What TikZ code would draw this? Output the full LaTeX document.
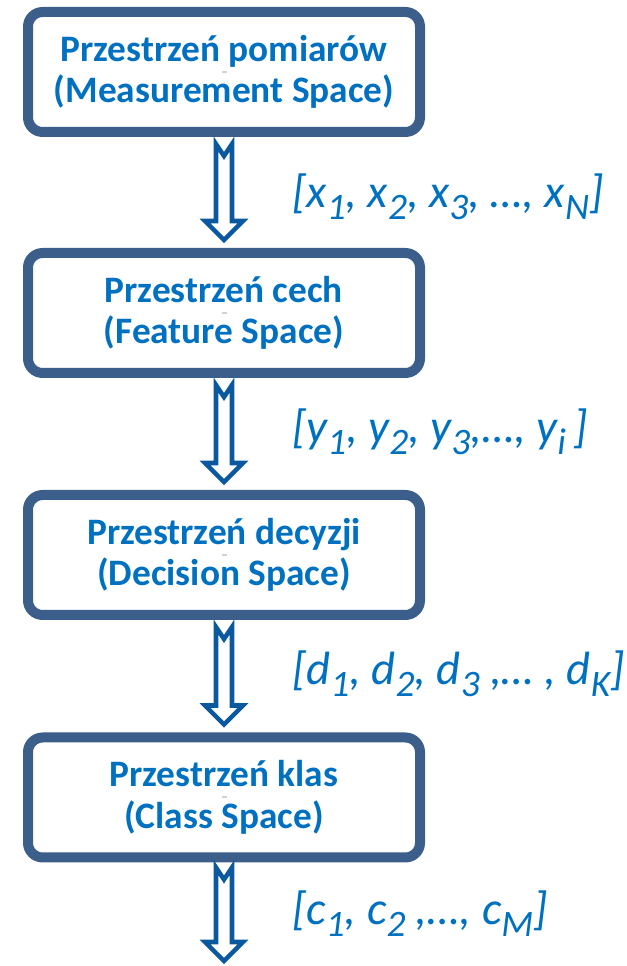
\documentclass[tikz,border=0pt]{standalone}
\usepackage{fontspec}
\setmainfont{Carlito}
\usetikzlibrary{calc}

\definecolor{boxblue}{RGB}{59,94,139}
\definecolor{arrowblue}{RGB}{10,88,158}
\definecolor{textblue}{RGB}{0,112,192}

% lowered, slightly smaller index
\newcommand{\idx}[1]{\raisebox{-0.24em}{\fontsize{28pt}{28pt}\selectfont #1}}
% hollow down arrow with notched tail, from coordinate #1 to tip #2
\newcommand{\spacearrow}[2]{%
  \draw[flowarrow] ($(#1)+(-8,0)$) -- ($(#1)+(0,-12)$) -- ($(#1)+(8,0)$)
    -- ($(#2)+(8,19)$) -- ($(#2)+(19,19)$) -- (#2) -- ($(#2)+(-19,19)$)
    -- ($(#2)+(-8,19)$) -- cycle;}

\begin{document}
\begin{tikzpicture}[x=0.75pt, y=0.75pt,
    spacebox/.style={draw=boxblue, line width=7.5pt, rounded corners=11pt,
      fill=white, minimum width=294pt, minimum height=90pt, align=center,
      text=textblue, font=\fontsize{28pt}{31pt}\selectfont\bfseries},
    vectorlabel/.style={anchor=base west, inner sep=0pt, text=textblue,
      font=\fontsize{35pt}{40pt}\selectfont\itshape},
    flowarrow/.style={draw=arrowblue, line width=3.4pt, fill=white,
      line join=miter}]
    \useasboundingbox (0,0) rectangle (627,966);

    % The four spaces
    \node[spacebox] (meas) at (224,894)   {Przestrzeń pomiarów\\(Measurement Space)};
    \node[spacebox] (feat) at (224,653)   {Przestrzeń cech\\(Feature Space)};
    \node[spacebox] (dec)  at (224,411)   {Przestrzeń decyzji\\(Decision Space)};
    \node[spacebox] (cls)  at (224,168.5) {Przestrzeń klas\\(Class Space)};

    % small grey mark left in the middle of every box
    \foreach \b in {meas,feat,dec,cls}
        \fill[gray!35] ($(\b.center)+(-2.5,-1)$) rectangle ($(\b.center)+(2.5,1)$);

    % Arrow ends
    \coordinate (t1) at ($(meas.south)+(0,-7)$);
    \coordinate (h1) at ($(feat.north)+(0,8)$);
    \coordinate (t2) at ($(feat.south)+(0,-7)$);
    \coordinate (h2) at ($(dec.north)+(0,8)$);
    \coordinate (t3) at ($(dec.south)+(0,-7)$);
    \coordinate (h3) at ($(cls.north)+(0,8)$);
    \coordinate (t4) at ($(cls.south)+(0,-5)$);
    \coordinate (h4) at (224,5);
    \spacearrow{t1}{h1}
    \spacearrow{t2}{h2}
    \spacearrow{t3}{h3}
    \spacearrow{t4}{h4}

    % Vectors passed between the spaces
    \node[vectorlabel] (xvec) at (292,758) {[x\idx{1}, x\idx{2}, x\idx{3}, …, x\idx{N}]};
    \node[vectorlabel] (yvec) at (292,523) {[y\idx{1}, y\idx{2}, y\idx{3},…, y\idx{i}\,]};
    \node[vectorlabel] (dvec) at (292,281) {[d\idx{1}, d\idx{2}, d\idx{3} ,… , d\idx{K}]};
    \node[vectorlabel] (cvec) at (292,41)  {[c\idx{1}, c\idx{2} ,…, c\idx{M}]};
\end{tikzpicture}
\end{document}
